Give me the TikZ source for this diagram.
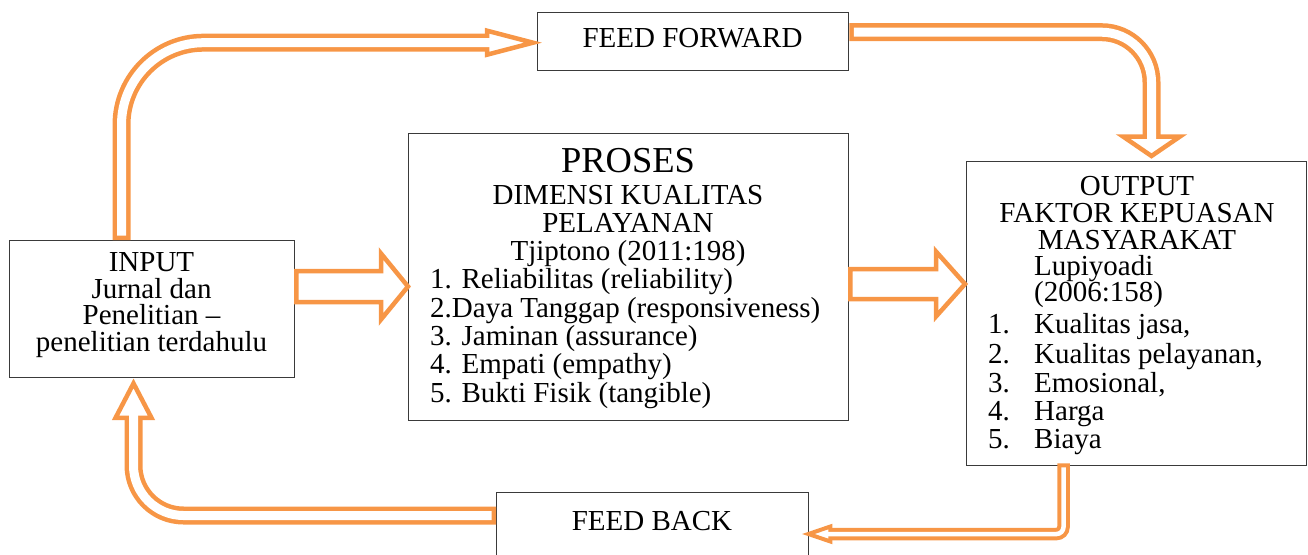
\documentclass[tikz,border=0pt]{standalone}
\usepackage{fontspec}
\setmainfont{Liberation Serif}
\newfontfamily\tnr{Liberation Serif}
\usetikzlibrary{calc}
\definecolor{org}{HTML}{F79646}
\definecolor{bline}{HTML}{3A3A3A}
\begin{document}
\begin{tikzpicture}[x=1pt,y=-1pt,
  box/.style={draw=bline, line width=1.4pt, fill=white, inner sep=0pt, anchor=north west},
  txt/.style={inner sep=0pt, anchor=base, text height=19pt, text depth=5pt, font=\tnr\fontsize{29}{29}\selectfont},
  ltxt/.style={txt, anchor=base west},
  bigtxt/.style={txt, text height=24pt, font=\tnr\fontsize{36.5}{36.5}\selectfont},
  shaftout/.style={draw=org, line width=18pt},
  shaftin/.style={draw=white, line width=9pt},
  headst/.style={draw=org, fill=white, line width=4.5pt, line join=miter},
  blockarrow/.style={draw=org, fill=white, line width=4.5pt, line join=miter},
  thinout/.style={draw=org, line width=12.5pt},
  thinin/.style={draw=white, line width=4.5pt},
  thinhead/.style={draw=org, fill=white, line width=4pt, line join=miter}]
\useasboundingbox (0,0) rectangle (1308,554);
\clip (0,0) rectangle (1308,554);

% boxes
\node[box, minimum width=285pt, minimum height=137pt] (input) at (9,240) {};
\node[box, minimum width=440pt, minimum height=287pt] (proses) at (408,133) {};
\node[box, minimum width=340pt, minimum height=304pt] (output) at (966,161) {};
\node[box, minimum width=311pt, minimum height=58pt] (ff) at (537,12) {};
\node[box, minimum width=312pt, minimum height=100pt] (fb) at (496,492) {};

% texts
\node[txt] (ffT) at (692.5,47) {FEED FORWARD};
\node[txt] (fbT) at (652,530) {FEED BACK};

\node[txt] (in1) at (151.5,271) {INPUT};
\node[txt] (in2) at (151.5,298.5) {Jurnal dan};
\node[txt] (in3) at (151.5,324.5) {Penelitian –};
\node[txt] (in4) at (151.5,351) {penelitian terdahulu};

\node[bigtxt] (pr0) at (628,172) {PROSES};
\node[txt] (pr1) at (628,204) {DIMENSI KUALITAS};
\node[txt] (pr2) at (628,232) {PELAYANAN};
\node[txt] (pr3) at (628,260) {Tjiptono (2011:198)};
\node[ltxt] (pl1) at (430,288) {1. Reliabilitas (reliability)};
\node[ltxt] (pl2) at (430,317) {2.Daya Tanggap (responsiveness)};
\node[ltxt] (pl3) at (430,345.5) {3. Jaminan (assurance)};
\node[ltxt] (pl4) at (430,373.5) {4. Empati (empathy)};
\node[ltxt] (pl5) at (430,402) {5. Bukti Fisik (tangible)};

\node[txt] (ou0) at (1137,195) {OUTPUT};
\node[txt] (ou1) at (1137,222) {FAKTOR KEPUASAN};
\node[txt] (ou2) at (1137,249) {MASYARAKAT};
\node[ltxt] (ou3) at (1034,275) {Lupiyoadi};
\node[ltxt] (ou4) at (1034,301) {(2006:158)};
\node[ltxt] (on1) at (988,333) {1.};
\node[ltxt] (on2) at (988,363) {2.};
\node[ltxt] (on3) at (988,392) {3.};
\node[ltxt] (on4) at (988,420) {4.};
\node[ltxt] (on5) at (988,448) {5.};
\node[ltxt] (ol1) at (1034,333) {Kualitas jasa,};
\node[ltxt] (ol2) at (1034,363) {Kualitas pelayanan,};
\node[ltxt] (ol3) at (1034,392) {Emosional,};
\node[ltxt] (ol4) at (1034,420) {Harga};
\node[ltxt] (ol5) at (1034,448) {Biaya};

% ---- arrow A: input -> feed forward
\coordinate (aS) at ($(input.north west)+(112.5,0)$);
\coordinate (aT) at ($(ff.west)+(-4,1)$);
\coordinate (aB) at ($(aT)+(-46,0)$);
\draw[shaftout, rounded corners=82pt] (aS) |- (aB);
\draw[headst] ($(aB)+(0,-12)$) -- (aT) -- ($(aB)+(0,12)$) -- cycle;
\draw[shaftin, rounded corners=82pt, shorten <=4.5pt] (aS) |- ($(aB)+(5,0)$);

% ---- arrow B: feed forward -> output
\coordinate (bS) at ($(ff.east)+(0,-9.5)$);
\coordinate (bT) at ($(output.north west)+(185.5,-5)$);
\coordinate (bB) at ($(bT)+(0,-19.5)$);
\draw[shaftout, rounded corners=50pt] (bS) -| (bB);
\draw[headst] ($(bB)+(-28.5,0)$) -- (bT) -- ($(bB)+(28.5,0)$) -- cycle;
\draw[shaftin, rounded corners=50pt, shorten <=4.5pt] (bS) -| ($(bB)+(0,5)$);

% ---- arrow C: feed back -> input
\coordinate (cS) at ($(fb.north west)+(0,23.5)$);
\coordinate (cT) at ($(input.south west)+(124.5,5)$);
\coordinate (cB) at ($(cT)+(0,34.5)$);
\draw[shaftout, rounded corners=50pt] (cS) -| (cB);
\draw[headst] ($(cB)+(-18,0)$) -- (cT) -- ($(cB)+(18,0)$) -- cycle;
\draw[shaftin, rounded corners=50pt, shorten <=4.5pt] (cS) -| ($(cB)+(0,-5)$);

% ---- arrow D: output -> feed back (thin)
\coordinate (dS) at ($(output.south west)+(97.5,-3)$);
\coordinate (dT) at ($(fb.north east)+(-1,42)$);
\coordinate (dB) at ($(dT)+(22,0)$);
\draw[thinout, rounded corners=7pt] (dS) |- (dB);
\draw[thinhead] ($(dB)+(0,-7.5)$) -- (dT) -- ($(dB)+(0,7.5)$) -- cycle;
\draw[thinin, rounded corners=7pt, shorten <=4pt] (dS) |- ($(dB)+(-4,0)$);

% ---- block arrow E: input -> proses
\coordinate (eS) at ($(input.north east)+(1,46.5)$);
\coordinate (eT) at ($(proses.north west)+(0,153.5)$);
\draw[blockarrow] ($(eS)+(0,-15.5)$) -- ($(eT)+(-27,-15.5)$) -- ($(eT)+(-27,-33)$) -- (eT)
  -- ($(eT)+(-27,33)$) -- ($(eT)+(-27,15.5)$) -- ($(eS)+(0,15.5)$) -- cycle;

% ---- block arrow F: proses -> output
\coordinate (fS) at ($(proses.north east)+(1,151)$);
\coordinate (fT) at ($(output.north west)+(-1,123)$);
\draw[blockarrow] ($(fS)+(0,-15)$) -- ($(fT)+(-29,-15)$) -- ($(fT)+(-29,-32.5)$) -- (fT)
  -- ($(fT)+(-29,32.5)$) -- ($(fT)+(-29,15)$) -- ($(fS)+(0,15)$) -- cycle;
\end{tikzpicture}
\end{document}
